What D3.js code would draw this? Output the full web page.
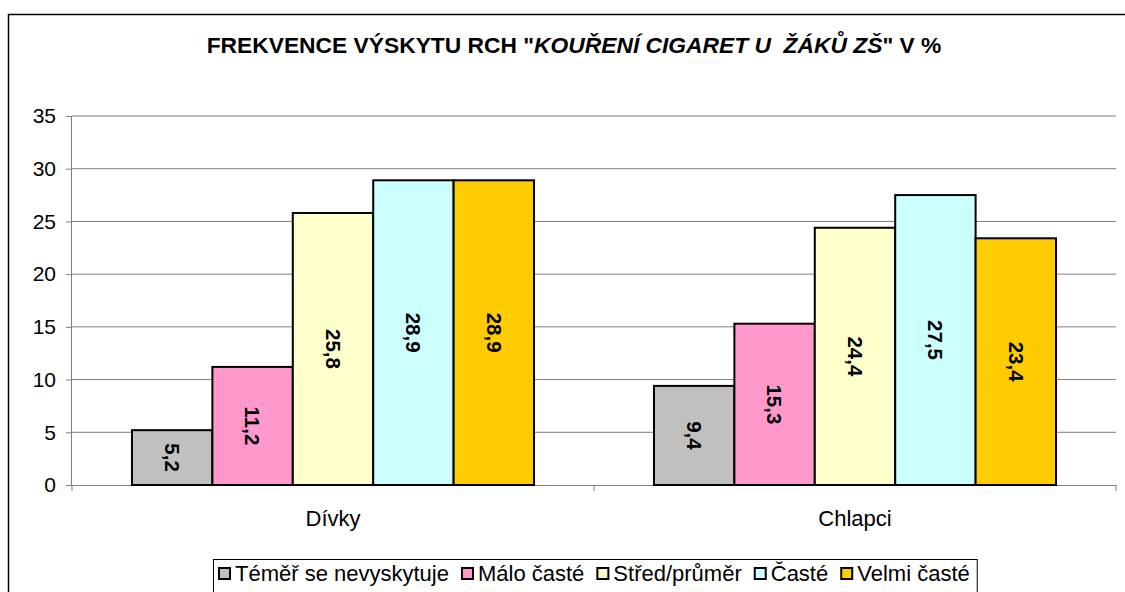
<!DOCTYPE html>
<html lang="cs">
  <head>
    <meta charset="UTF-8" />
    <title>Frekvence výskytu RCH</title>
    <script src="https://d3js.org/d3.v7.min.js"></script>
    <style>
      body { margin: 0; background: #fff; }
      text { font-family: "Liberation Sans", Arial, sans-serif; }
    </style>
  </head>
  <body>
    <div id="graph"></div>
    <script>
      const groups = ["Dívky", "Chlapci"];
      const series = ["Téměř se nevyskytuje", "Málo časté", "Střed/průměr", "Časté", "Velmi časté"];
      const colorsList = ["#c0c0c0", "#ff99cc", "#ffffcc", "#ccffff", "#ffcc00"];
      const divky = [5.2, 11.2, 25.8, 28.9, 28.9];
      const chlapci = [9.4, 15.3, 24.4, 27.5, 23.4];
      const yTicks = [0, 5, 10, 15, 20, 25, 30, 35];

      const W = 1125, H = 592;
      var margin = { top: 116, right: 9, bottom: 107, left: 72 },
        width = W - margin.left - margin.right,
        height = H - margin.top - margin.bottom;

      const root = d3.select("#graph").append("svg")
        .attr("width", W).attr("height", H);

      // outer chart border (cut off at right and bottom)
      root.append("rect")
        .attr("x", 8.5).attr("y", 14.5)
        .attr("width", W + 20).attr("height", H + 20)
        .attr("fill", "none").attr("stroke", "#000").attr("stroke-width", 1.5);

      // title
      const title = root.append("text")
        .attr("x", 574).attr("y", 53)
        .attr("text-anchor", "middle").attr("xml:space", "preserve")
        .style("font-size", "22.8px").style("font-weight", "bold");
      title.append("tspan").text('FREKVENCE VÝSKYTU RCH "');
      title.append("tspan").style("font-style", "italic").text("KOUŘENÍ CIGARET U  ŽÁKŮ ZŠ");
      title.append("tspan").text('" V %');

      const svg = root.append("g")
        .attr("transform", `translate(${margin.left},${margin.top})`);

      const x0 = d3.scaleBand().domain(groups).range([0, width]);
      const x1 = d3.scaleBand().domain(series)
        .range([0, x0.bandwidth()]).paddingOuter(0.746).paddingInner(0);
      const y = d3.scaleLinear().domain([0, 35]).range([height, 0]);

      // gridlines
      svg.append("g").selectAll("line").data(yTicks.slice(1)).join("line")
        .attr("x1", 0).attr("x2", width)
        .attr("y1", d => y(d)).attr("y2", d => y(d))
        .attr("stroke", "#7f7f7f").attr("stroke-width", 1);

      // y axis
      const yAxis = svg.append("g")
        .call(d3.axisLeft(y).tickValues(yTicks).tickSize(6));
      yAxis.selectAll("path, line").attr("stroke", "#7f7f7f");
      yAxis.select(".domain").attr("d", `M-0.5,0V${height}`);
      yAxis.selectAll("text").attr("x", -16)
        .style("font-size", "21px").attr("fill", "#000").attr("font-family", null);

      // x axis
      const xAxis = svg.append("g").attr("transform", `translate(0,${height})`)
        .call(d3.axisBottom(x0).tickSize(0).tickPadding(25));
      xAxis.select(".domain").attr("stroke", "#7f7f7f").attr("d", `M0,0.5H${width}`);
      xAxis.selectAll("text")
        .style("font-size", "22px").attr("fill", "#000").attr("font-family", null);
      // category dividers
      svg.append("g").selectAll("line").data([0, 1, 2]).join("line")
        .attr("x1", d => d * x0.bandwidth()).attr("x2", d => d * x0.bandwidth())
        .attr("y1", height).attr("y2", height + 6)
        .attr("stroke", "#7f7f7f");

      const data = [];
      groups.forEach((g, gi) => {
        const vals = gi === 0 ? divky : chlapci;
        series.forEach((s, si) => data.push({ g, s, v: vals[si], c: colorsList[si] }));
      });

      const bars = svg.append("g").selectAll("g").data(data).join("g")
        .attr("transform", d => `translate(${x0(d.g) + x1(d.s)},0)`);
      bars.append("rect")
        .attr("x", 0).attr("y", d => y(d.v))
        .attr("width", x1.bandwidth()).attr("height", d => height - y(d.v))
        .attr("fill", d => d.c).attr("stroke", "#000").attr("stroke-width", 2);
      bars.append("text")
        .attr("transform", d => `translate(${x1.bandwidth() / 2},${(y(d.v) + height) / 2}) rotate(90)`)
        .attr("text-anchor", "middle").attr("dy", "0.35em")
        .style("font-size", "20.5px").style("font-weight", "bold")
        .text(d => String(d.v).replace(".", ","));

      // legend
      const lg = root.append("g");
      const items = lg.selectAll("g").data(series).join("g");
      items.append("rect").attr("width", 11).attr("height", 11)
        .attr("fill", (d, i) => colorsList[i]).attr("stroke", "#000").attr("stroke-width", 2);
      items.append("text").attr("x", 16).attr("y", 13)
        .style("font-size", "22px").text(d => d);
      let lx = 219;
      items.each(function () {
        d3.select(this).attr("transform", `translate(${lx},568)`);
        lx += this.getBBox().width + 13;
      });
      lg.insert("rect", ":first-child")
        .attr("x", 213.5).attr("y", 559.5)
        .attr("width", lx - 213 - 6).attr("height", 40)
        .attr("fill", "#fff").attr("stroke", "#000").attr("stroke-width", 1);
    </script>
  </body>
</html>
